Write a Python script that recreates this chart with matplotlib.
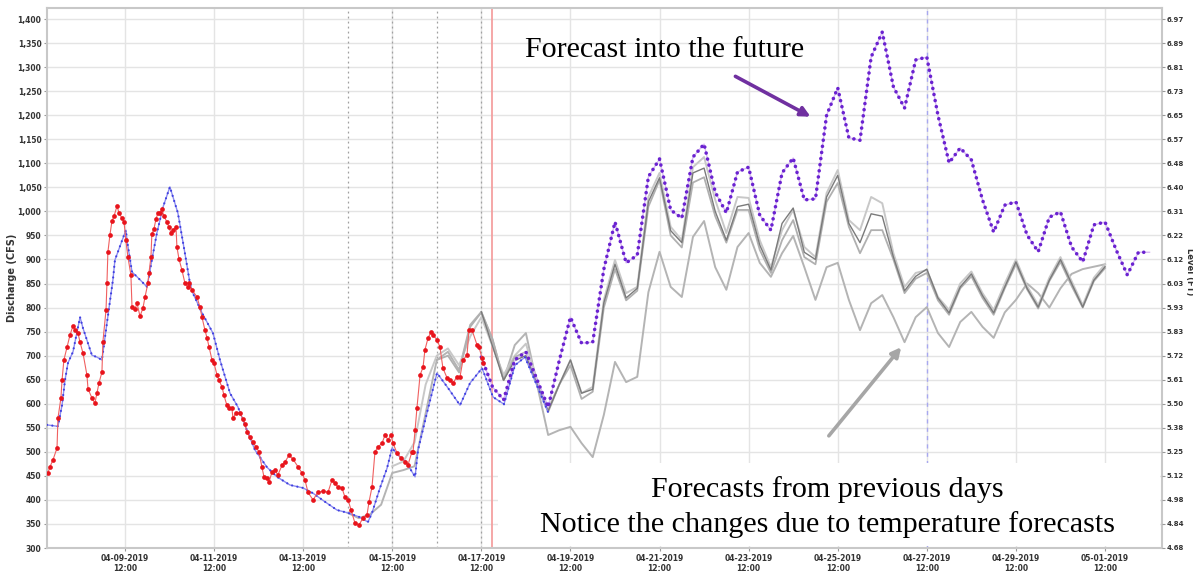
import numpy as np
import matplotlib
matplotlib.use("Agg")
import matplotlib.pyplot as plt
import matplotlib.dates as mdates
from matplotlib.patches import Rectangle

# hours are counted from 2019-04-07 00:00
T0 = np.datetime64("2019-04-07T00:00")

obs_hours = [18.4, 19.6, 21.2, 23.4, 23.9, 25.5, 26.1, 27.1, 28.8, 30.4, 32.0, 33.1, 34.7, 35.8, 37.4,
             39.5, 40.1, 42.2, 43.8, 44.9, 46.0, 47.6, 48.1, 49.8, 50.3, 50.8, 51.9, 53.0, 54.1, 55.7,
             56.8, 58.4, 59.5, 60.5, 61.6, 63.2, 63.8, 65.4, 66.5, 68.1, 69.7, 70.8, 72.4, 72.9, 74.0,
             74.5, 75.6, 76.7, 77.8, 78.9, 79.9, 81.0, 82.6, 83.7, 84.8, 85.9, 87.5, 88.0, 89.1, 90.7,
             92.3, 93.9, 94.5, 96.1, 98.8, 100.4, 101.5, 103.1, 104.2, 105.3, 106.9, 107.9, 109.6, 110.6,
             112.3, 113.3, 114.9, 116.0, 117.6, 118.2, 119.8, 121.9, 123.6, 124.6, 125.7, 127.3, 129.0,
             130.6, 132.2, 133.8, 134.9, 136.5, 137.6, 139.2, 140.8, 142.4, 144.6, 146.2, 148.4, 150.5,
             153.2, 155.4, 157.0, 158.6, 161.3, 164.0, 166.7, 169.4, 171.5, 173.1, 174.7, 176.9, 178.5,
             180.2, 181.8, 183.9, 186.1, 188.2, 190.4, 191.5, 193.1, 194.7, 196.3, 198.5, 200.1, 201.7,
             203.3, 204.4, 206.5, 208.7, 210.9, 212.5, 214.6, 215.2, 216.3, 217.3, 219.0, 220.6, 221.6,
             223.3, 224.9, 226.0, 228.1, 229.7, 231.3, 233.5, 235.1, 236.7, 238.9, 240.5, 242.1, 244.3,
             245.3, 247.0, 249.7, 250.7, 252.4, 252.9]
obs_cfs = [455, 469, 483, 508, 570, 612, 649, 691, 718, 743, 762, 753, 747, 728, 705,
           660, 631, 612, 601, 622, 643, 666, 728, 795, 851, 915, 951, 980, 990, 1011,
           997, 986, 978, 940, 905, 868, 801, 797, 809, 782, 799, 822, 851, 871, 905,
           953, 963, 984, 997, 997, 1005, 990, 978, 967, 955, 961, 967, 926, 901, 878,
           851, 843, 851, 837, 822, 801, 780, 753, 737, 718, 691, 685, 660, 649,
           635, 618, 597, 591, 591, 570, 581, 581, 568, 558, 541, 531, 520,
           510, 500, 468, 448, 445, 437, 458, 462, 452, 472, 479, 493, 485,
           469, 456, 441, 416, 400, 416, 418, 416, 441, 435, 427, 425, 406,
           400, 379, 352, 348, 362, 369, 396, 427, 500, 510, 518, 535, 525,
           535, 518, 498, 487, 479, 473, 500, 500, 545, 591, 660, 676, 712,
           737, 749, 743, 733, 718, 674, 654, 649, 643, 656, 656, 691, 701,
           753, 753, 722, 718, 695, 685]

sim_hours = [18.0, 23.9, 26.1, 27.7, 29.3, 32.0, 35.8, 37.4, 42.2, 44.9, 47.6, 50.3, 53.5, 54.6,
             60.5, 61.1, 63.8, 66.5, 71.9, 74.5, 77.2, 80.5, 84.2, 88.5, 92.3, 95.0, 96.6, 101.5,
             107.4, 111.2, 116.6, 120.9, 125.7, 130.0, 136.5, 141.9, 148.9, 155.9, 161.3, 167.8,
             174.2, 180.2, 186.6, 190.9, 193.1, 197.4, 201.2, 203.9, 207.1, 211.4, 216.3, 217.9,
             222.7, 228.1, 234.0, 240.5, 245.9, 252.4, 258.3, 264.2, 270.1, 275.5, 287.9]
sim_cfs = [556, 553, 597, 649, 685, 708, 780, 757, 701, 697, 691, 768, 857, 899,
           961, 940, 874, 864, 843, 899, 955, 1009, 1051, 997, 913, 851, 830, 789,
           747, 691, 622, 593, 545, 504, 468, 448, 431, 425, 414, 396,
           379, 373, 364, 354, 373, 425, 466, 508, 493, 479, 448, 504,
           581, 664, 633, 597, 643, 674, 614, 599, 680, 697, 583]

# current forecast, 6-hourly from 04-17 12:00
fc_hours = list(range(252, 613, 6))
fc_cfs = [697, 635, 608, 691, 708, 650, 593, 690, 780, 726, 728, 880, 978, 893, 909,
          1072, 1109, 1003, 986, 1113, 1140, 1040, 997, 1082, 1092, 992, 961, 1080, 1111,
          1024, 1026, 1200, 1257, 1153, 1148, 1321, 1373, 1259, 1215, 1315, 1321, 1200, 1101,
          1132, 1107, 1024, 957, 1013, 1020, 951, 916, 988, 999, 926, 895, 972, 978, 920,
          868, 915, 915]

# forecasts issued on earlier days
prev1_hours = list(range(180, 589, 6))
prev1_cfs = [373, 362, 370, 390, 456, 462, 470, 580, 691, 708, 670, 764, 791, 733, 649,
             722, 747, 640, 535, 545, 552, 518, 489, 577, 687, 645, 656, 832, 916, 843,
             822, 947, 980, 884, 837, 926, 955, 893, 864, 913, 949, 884, 816, 884, 893,
             816, 753, 809, 826, 780, 728, 780, 801, 747, 718, 770, 791, 760, 737, 790,
             816, 850, 830, 800, 840, 870, 880, 885, 890]
prev2_hours = list(range(204, 589, 6))
prev2_cfs = [470, 480, 520, 640, 700, 715, 680, 740, 780, 720, 660, 700, 725, 650, 590,
             640, 691, 622, 635, 816, 899, 830, 843, 1030, 1080, 968, 940, 1092, 1113, 1024,
             955, 1030, 1028, 940, 884, 961, 1003, 926, 905, 1038, 1086, 982, 961, 1030, 1017,
             913, 843, 872, 878, 822, 795, 850, 875, 830, 795, 850, 900, 845, 805, 862,
             905, 855, 805, 862, 890]
prev3_hours = list(range(228, 589, 6))
prev3_cfs = [691, 700, 665, 760, 790, 735, 649, 697, 708, 640, 583, 640, 680, 610, 625,
             800, 880, 815, 835, 1010, 1065, 950, 925, 1060, 1071, 990, 935, 1003, 1003, 920,
             872, 940, 982, 905, 890, 1020, 1059, 968, 913, 961, 961, 900, 830, 860, 872,
             815, 785, 840, 865, 820, 785, 840, 890, 838, 798, 855, 895, 845, 800, 855,
             882]
prev4_hours = list(range(252, 589, 6))
prev4_cfs = [791, 720, 649, 690, 700, 640, 585, 640, 691, 622, 630, 810, 890, 820, 840,
             1020, 1070, 960, 935, 1080, 1090, 1000, 940, 1010, 1015, 930, 878, 975, 1007, 915,
             900, 1030, 1075, 975, 935, 995, 990, 905, 835, 865, 880, 820, 789, 843, 870,
             825, 789, 843, 895, 840, 801, 857, 900, 850, 801, 857, 885]

issue_hours = [180, 204, 228, 252]
now_hour = 258
prev_end_hour = 492

cfs_ticks = list(range(300, 1401, 50))
level_labels = ["4.68", "4.84", "4.98", "5.12", "5.25", "5.38", "5.50", "5.61", "5.72", "5.83",
                "5.93", "6.03", "6.12", "6.22", "6.31", "6.40", "6.48", "6.57", "6.65", "6.73",
                "6.81", "6.89", "6.97"]


def to_time(hours):
    return T0 + (np.asarray(hours, dtype=float) * 3600).astype("timedelta64[s]")


fig = plt.figure(figsize=(11.93, 5.71), dpi=100)
ax = fig.add_axes([47 / 1193, 1 - 548 / 571, 1115 / 1193, 540 / 571])

ax.set_ylim(300, 1423)
ax.set_xlim(to_time([18.0])[0], to_time([618.7])[0])

tick_times = to_time(np.arange(60, 600, 48))
ax.set_xticks(tick_times)
ax.xaxis.set_major_formatter(mdates.DateFormatter("%m-%d-%Y\n%H:%M"))
ax.set_yticks(cfs_ticks)
ax.set_yticklabels([f"{v:,}" for v in cfs_ticks])
ax.grid(True, color="#e4e4e4", lw=1.0, zorder=0)
ax.set_axisbelow(True)
ax.tick_params(labelsize=5.5, length=2, color="#999999", pad=2)
for lab in ax.get_xticklabels() + ax.get_yticklabels():
    lab.set_fontweight("bold")
    lab.set_color("#333333")
for s in ax.spines.values():
    s.set_color("#c8c8c8")
    s.set_linewidth(1.5)

# issue times and "now"
for h in issue_hours:
    ax.axvline(to_time([h])[0], color="#a0a0a0", lw=0.9, ls=(0, (1.5, 2.5)), zorder=1)
ax.axvline(to_time([now_hour])[0], color="#f4a0a0", lw=1.3, zorder=1)
ax.axvline(to_time([prev_end_hour])[0], color="#a8a8f0", lw=1.0, ls=(0, (3, 3)), zorder=1)

# earlier forecasts
ax.plot(to_time(prev1_hours), prev1_cfs, color="#b4b4b4", lw=1.4, zorder=2)
ax.plot(to_time(prev2_hours), prev2_cfs, color="#c8c8c8", lw=1.4, zorder=2)
ax.plot(to_time(prev3_hours), prev3_cfs, color="#b0b0b0", lw=1.3, zorder=2)
ax.plot(to_time(prev4_hours), prev4_cfs, color="#7a7a7a", lw=1.0, zorder=2)

# simulated discharge
ax.plot(to_time(sim_hours), sim_cfs, color="#8c8cf0", lw=1.0, zorder=3)
ax.plot(to_time(sim_hours), sim_cfs, color="#4040e0", lw=1.6,
        ls=(0, (0.01, 2.4)), dash_capstyle="round", zorder=3)

# current forecast
ax.plot(to_time(fc_hours), fc_cfs, color="#d8b8f4", lw=1.0, zorder=4)
ax.plot(to_time(fc_hours), fc_cfs, color="#6a22d0", lw=2.6,
        ls=(0, (0.01, 1.7)), dash_capstyle="round", zorder=4)

# observed discharge
ax.plot(to_time(obs_hours), obs_cfs, color="#f06060", lw=0.8, zorder=5)
ax.plot(to_time(obs_hours), obs_cfs, "o", color="#e8141c", ms=3.4, mew=0, zorder=5)

fig.text(12 / 1193, 1 - 278 / 571, "Discharge (CFS)", rotation=90, fontsize=7,
         fontweight="bold", color="#333333", ha="center", va="center")

ax2 = ax.twinx()
ax2.set_ylim(ax.get_ylim())
ax2.set_yticks(cfs_ticks)
ax2.set_yticklabels(level_labels)
ax2.tick_params(labelsize=5.0, length=2, color="#999999", pad=1.5)
for lab in ax2.get_yticklabels():
    lab.set_fontweight("bold")
    lab.set_color("#333333")
for s in ax2.spines.values():
    s.set_visible(False)
fig.text(1189 / 1193, 1 - 272 / 571, "Level (FT)", rotation=270, fontsize=6,
         fontweight="bold", color="#333333", ha="center", va="center")

# white panel behind the lower notes
ax.add_patch(Rectangle((0.4045, 0.003), 0.594, 0.154, transform=ax.transAxes,
                       facecolor="white", edgecolor="none", zorder=6))

serif = ["Liberation Serif", "DejaVu Serif"]
ax.text(0.5543, 0.922, "Forecast into the future", transform=ax.transAxes,
        fontsize=21.6, family=serif, ha="center", va="center", zorder=7)
ax.text(0.7, 0.108, "Forecasts from previous days", transform=ax.transAxes,
        fontsize=21.6, family=serif, ha="center", va="center", zorder=7)
ax.text(0.7, 0.044, "Notice the changes due to temperature forecasts", transform=ax.transAxes,
        fontsize=21.6, family=serif, ha="center", va="center", zorder=7)

ax.annotate("", xy=(0.687, 0.7963), xytext=(0.6152, 0.8759), xycoords="axes fraction",
            arrowprops=dict(arrowstyle="-|>", color="#7030a0", lw=2.6, mutation_scale=14),
            zorder=7)
ax.annotate("", xy=(0.7677, 0.3759), xytext=(0.6996, 0.2037), xycoords="axes fraction",
            arrowprops=dict(arrowstyle="-|>", color="#a6a6a6", lw=2.6, mutation_scale=14),
            zorder=7)

fig.savefig("out.png", dpi=100)
